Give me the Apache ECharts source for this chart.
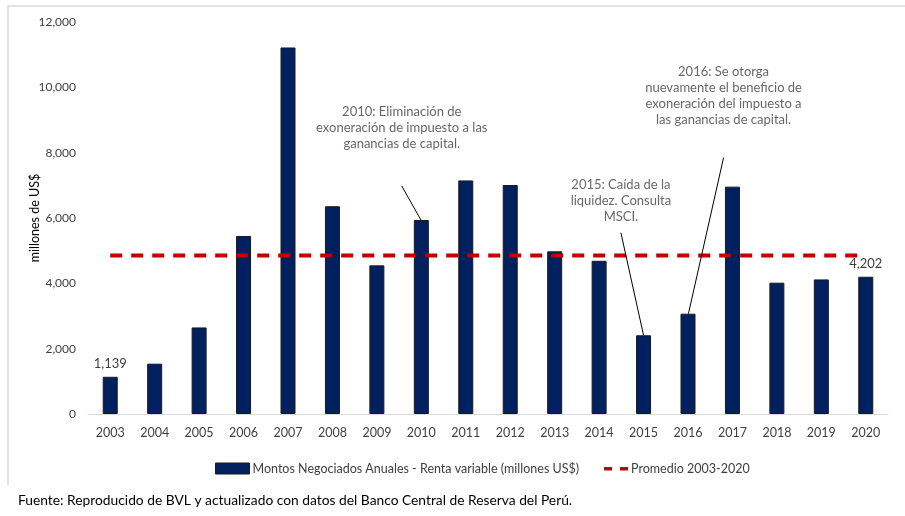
<!DOCTYPE html>
<html>
<head>
<meta charset="utf-8">
<script src="https://cdn.jsdelivr.net/npm/echarts@6/dist/echarts.min.js"></script>
<style>html,body{margin:0;padding:0;background:#fff}#c{width:905px;height:516px}</style>
</head>
<body>
<div id="c"></div>
<script>
const years = ['2003','2004','2005','2006','2007','2008','2009','2010','2011','2012','2013','2014','2015','2016','2017','2018','2019','2020'];
const montos = [1139,1540,2650,5450,11220,6360,4550,5940,7150,7010,4980,4690,2410,3070,6960,4020,4120,4202];
const promedio = [4850,4850,4850,4850,4850,4850,4850,4850,4850,4850,4850,4850,4850,4850,4850,4850,4850,4850];
const yTicks = [0,2000,4000,6000,8000,10000,12000];
const notes = [
  {text:'2010: Eliminación de\nexoneración de impuesto a las\nganancias de capital.', at:[6.56,8750], line:[[6.56,6980],[6.99,5940]]},
  {text:'2015: Caída de la\nliquidez. Consulta\nMSCI.', at:[11.49,6520], line:[[11.49,5550],[12,2410]]},
  {text:'2016: Se otorga\nnuevamente el beneficio de\nexoneración del impuesto a\nlas ganancias de capital.', at:[13.8,9750], line:[[13.8,7845],[13.01,3070]]}
];
const FONT = 'Lato,"Open Sans",sans-serif';
const fmt = v => v.toLocaleString('en-US');

const chart = echarts.init(document.getElementById('c'));
const series = [
  {name:'Montos Negociados Anuales - Renta variable (millones US$)', type:'bar', barWidth:15,
   itemStyle:{color:'#002060', borderColor:'#1a1a1a', borderWidth:1},
   data: montos.map((v,i)=>({value:v, label:{show:(i===0||i===montos.length-1), position:'top', distance:6, formatter:p=>fmt(p.value), color:'#404040', fontSize:13, fontFamily:FONT}})),
   z:2},
  {name:'Promedio 2003-2020', type:'line', data:promedio, symbol:'none', showSymbol:false,
   lineStyle:{color:'#C00000', width:4, type:[12,9]}, itemStyle:{color:'#C00000'}, z:3}
];
notes.forEach(n=>{
  series.push({type:'line', xAxisIndex:1, yAxisIndex:0, data:n.line, symbol:'none', lineStyle:{color:'#000', width:1}, silent:true, z:4});
  series.push({type:'scatter', xAxisIndex:1, yAxisIndex:0, symbolSize:0, data:[n.at], silent:true,
    label:{show:true, position:'inside', formatter:n.text, color:'#404040', fontSize:13, lineHeight:16, fontFamily:FONT, align:'center'}, z:5});
});
chart.setOption({
  animation:false,
  textStyle:{fontFamily:FONT},
  grid:{left:88, right:17, top:22, bottom:102},
  xAxis:[
    {type:'category', data:years, axisLine:{lineStyle:{color:'#d9d9d9', width:1}}, axisTick:{show:false},
     axisLabel:{color:'#404040', fontSize:12.5, margin:12, fontFamily:FONT}},
    {type:'value', min:-0.5, max:17.5, show:false}
  ],
  yAxis:{type:'value', min:0, max:12000, interval:2000, splitLine:{show:false}, axisLine:{show:false}, axisTick:{show:false},
    axisLabel:{color:'#404040', fontSize:12, margin:12, fontFamily:FONT, formatter:v=>fmt(v)},
    name:'millones de US$', nameLocation:'middle', nameRotate:90, nameGap:47, nameMoveOverlap:false,
    nameTextStyle:{color:'#000', fontSize:12.5, fontFamily:FONT}},
  legend:{left:210, top:457, itemGap:15, itemWidth:34, itemHeight:11, textStyle:{color:'#404040', fontSize:12.5, fontFamily:FONT, padding:[0,0,0,-2]},
    data:[{name:'Montos Negociados Anuales - Renta variable (millones US$)', icon:'rect', itemStyle:{borderColor:'#1a1a1a', borderWidth:1}},
          {name:'Promedio 2003-2020', icon:'path://M0,0M34,11M10,4H18V7.5H10ZM26,4H34V7.5H26Z', itemStyle:{color:'#C00000', borderWidth:0}}]},
  graphic:[
    {type:'polyline', shape:{points:[[8,485],[8,6],[905,6]]}, style:{stroke:'#d9d9d9', fill:null, lineWidth:1.5}, silent:true},
    {type:'text', left:18, top:494, style:{text:'Fuente: Reproducido de BVL y actualizado con datos del Banco Central de Reserva del Perú.', fill:'#000', fontSize:13.8, fontFamily:FONT}}
  ],
  series
});
</script>
</body>
</html>
